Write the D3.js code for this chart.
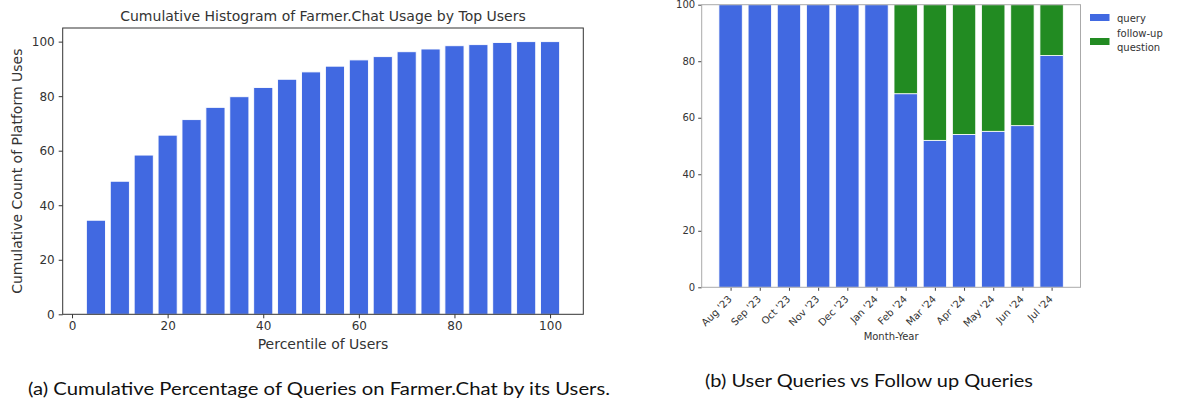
<!DOCTYPE html>
<html>
<head>
<meta charset="utf-8">
<script src="https://cdn.jsdelivr.net/npm/d3@7"></script>
<style>
  html, body { margin: 0; padding: 0; background: #fff; }
  svg { display: block; }
</style>
</head>
<body>
<svg id="chart" width="1178" height="402"></svg>
<script>
// ---------- Data ----------
const percentiles = [5, 10, 15, 20, 25, 30, 35, 40, 45, 50, 55, 60, 65, 70, 75, 80, 85, 90, 95, 100];
const cumulativeUses = [34.5, 48.8, 58.4, 65.7, 71.4, 75.9, 79.8, 83.2, 86.2, 88.9, 91.0, 93.3, 94.5, 96.3, 97.3, 98.5, 98.9, 99.7, 100, 100];
const leftXTicks = [0, 20, 40, 60, 80, 100];
const leftYTicks = [0, 20, 40, 60, 80, 100];

const months = ["Aug '23", "Sep '23", "Oct '23", "Nov '23", "Dec '23", "Jan '24", "Feb '24", "Mar '24", "Apr '24", "May '24", "Jun '24", "Jul '24"];
const queryPct = [100, 100, 100, 100, 100, 100, 68.5, 52.0, 54.1, 55.2, 57.2, 82.0];
const followUpPct = queryPct.map(v => 100 - v);
const rightYTicks = [0, 20, 40, 60, 80, 100];
const seriesNames = ["query", "follow-up question"];

const BLUE = "#4169E1", GREEN = "#228B22";
const svg = d3.select("#chart");
const mpl = "DejaVu Sans, sans-serif";

// ---------- Left chart ----------
{
  const L = {left: 62.7, right: 583.3, top: 28, bottom: 314.3};
  const x = d3.scaleLinear().domain([-1.95, 106.95]).range([L.left, L.right]);
  const y = d3.scaleLinear().domain([0, 105]).range([L.bottom, L.top]);
  const g = svg.append("g");
  const bw = 4;
  g.selectAll("rect.bar").data(percentiles).join("rect")
    .attr("class", "bar")
    .attr("x", (d) => x(d - bw / 2))
    .attr("width", (d) => x(d + bw / 2) - x(d - bw / 2))
    .attr("y", (d, i) => y(cumulativeUses[i]))
    .attr("height", (d, i) => y(0) - y(cumulativeUses[i]))
    .attr("fill", BLUE)
    .attr("stroke", "#fff").attr("stroke-width", 0.9);

  const xa = g.append("g").attr("transform", `translate(0,${L.bottom})`)
    .call(d3.axisBottom(x).tickValues(leftXTicks).tickSize(4).tickPadding(3));
  const ya = g.append("g").attr("transform", `translate(${L.left},0)`)
    .call(d3.axisLeft(y).tickValues(leftYTicks).tickSize(4).tickPadding(4));
  [xa, ya].forEach(a => {
    a.select(".domain").remove();
    a.selectAll("line").attr("stroke", "#333");
    a.selectAll("text").attr("font-family", mpl).attr("font-size", 12).attr("fill", "#333");
  });
  g.append("rect").attr("x", L.left).attr("y", L.top)
    .attr("width", L.right - L.left).attr("height", L.bottom - L.top)
    .attr("fill", "none").attr("stroke", "#333").attr("stroke-width", 1);

  g.append("text").attr("x", (L.left + L.right) / 2).attr("y", 21)
    .attr("text-anchor", "middle").attr("font-family", mpl).attr("font-size", 14).attr("fill", "#333")
    .text("Cumulative Histogram of Farmer.Chat Usage by Top Users");
  g.append("text").attr("x", (L.left + L.right) / 2).attr("y", 349)
    .attr("text-anchor", "middle").attr("font-family", mpl).attr("font-size", 14).attr("fill", "#333")
    .text("Percentile of Users");
  g.append("text").attr("transform", `translate(22,${(L.top + L.bottom) / 2}) rotate(-90)`)
    .attr("text-anchor", "middle").attr("font-family", mpl).attr("font-size", 14).attr("fill", "#333")
    .text("Cumulative Count of Platform Uses");

  g.append("text").attr("x", 28).attr("y", 395)
    .attr("font-family", "Lato, sans-serif").attr("font-size", 18).attr("fill", "#111")
    .attr("textLength", 582).attr("lengthAdjust", "spacingAndGlyphs")
    .text("(a) Cumulative Percentage of Queries on Farmer.Chat by its Users.");
}

// ---------- Right chart ----------
{
  const R = {left: 701.7, right: 1080.5, top: 4.7, bottom: 287.3};
  const xi = d3.scaleLinear().domain([-0.99, 11.99]).range([R.left, R.right]);
  const y = d3.scaleLinear().domain([0, 100]).range([R.bottom, R.top]);
  const g = svg.append("g");
  const bw = 0.8;
  const stack = d3.stack().keys(["q", "f"])(months.map((m, i) => ({m, q: queryPct[i], f: followUpPct[i]})));
  const colors = [BLUE, GREEN];
  stack.forEach((layer, li) => {
    g.selectAll(`rect.s${li}`).data(layer).join("rect")
      .attr("class", `s${li}`)
      .attr("x", (d, i) => xi(i - bw / 2))
      .attr("width", (d, i) => xi(i + bw / 2) - xi(i - bw / 2))
      .attr("y", d => y(d[1]))
      .attr("height", d => Math.max(0, y(d[0]) - y(d[1])))
      .attr("fill", colors[li])
      .attr("stroke", "#fff").attr("stroke-width", 0.8);
  });

  const xa = g.append("g").attr("transform", `translate(0,${R.bottom})`)
    .call(d3.axisBottom(xi).tickValues(d3.range(months.length)).tickFormat(i => months[i]).tickSize(3.5).tickPadding(3));
  xa.selectAll("text")
    .attr("x", 0).attr("y", 0).attr("dy", "0.35em")
    .attr("text-anchor", "end")
    .attr("transform", "translate(-1,10) rotate(-45)");
  const ya = g.append("g").attr("transform", `translate(${R.left},0)`)
    .call(d3.axisLeft(y).tickValues(rightYTicks).tickSize(3.5).tickPadding(3));
  [xa, ya].forEach(a => {
    a.select(".domain").remove();
    a.selectAll("line").attr("stroke", "#444");
    a.selectAll("text").attr("font-family", mpl).attr("font-size", 10).attr("fill", "#333");
  });
  g.append("rect").attr("x", R.left).attr("y", R.top)
    .attr("width", R.right - R.left).attr("height", R.bottom - R.top)
    .attr("fill", "none").attr("stroke", "#aaa").attr("stroke-width", 1);

  g.append("text").attr("x", (R.left + R.right) / 2).attr("y", 340)
    .attr("text-anchor", "middle").attr("font-family", mpl).attr("font-size", 10).attr("fill", "#333")
    .text("Month-Year");

  // legend
  const lg = g.append("g");
  lg.append("rect").attr("x", 1090).attr("y", 14).attr("width", 19.5).attr("height", 7).attr("fill", BLUE);
  lg.append("text").attr("x", 1117).attr("y", 21.5).attr("font-family", mpl).attr("font-size", 10).attr("fill", "#333").text(seriesNames[0]);
  lg.append("rect").attr("x", 1090).attr("y", 38).attr("width", 19.5).attr("height", 7).attr("fill", GREEN);
  const t2 = lg.append("text").attr("font-family", mpl).attr("font-size", 10).attr("fill", "#333");
  t2.append("tspan").attr("x", 1117).attr("y", 36.5).text("follow-up");
  t2.append("tspan").attr("x", 1117).attr("y", 50.5).text("question");

  g.append("text").attr("x", 705).attr("y", 387)
    .attr("font-family", "Lato, sans-serif").attr("font-size", 18).attr("fill", "#111")
    .attr("textLength", 328).attr("lengthAdjust", "spacingAndGlyphs")
    .text("(b) User Queries vs Follow up Queries");
}
</script>
</body>
</html>
